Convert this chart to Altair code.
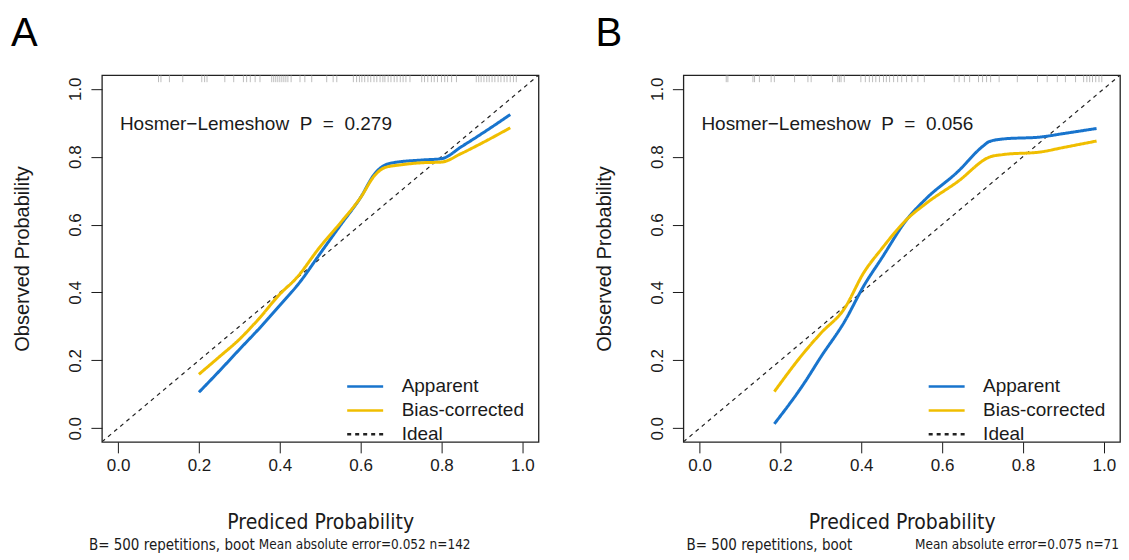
import altair as alt
import pandas as pd

series = ["Apparent", "Bias-corrected", "Ideal"]
ticks = [0.0, 0.2, 0.4, 0.6, 0.8, 1.0]
ideal_x = [-0.04, 1.04]
ideal_y = [-0.04, 1.04]

# Panel A
a_app_x = [0.20, 0.25, 0.30, 0.35, 0.40, 0.45, 0.50, 0.55, 0.60, 0.635, 0.655, 0.68, 0.75, 0.80, 0.85, 0.90, 0.97]
a_app_y = [0.106, 0.168, 0.232, 0.295, 0.362, 0.431, 0.515, 0.598, 0.680, 0.750, 0.772, 0.782, 0.790, 0.794, 0.830, 0.868, 0.924]
a_bc_x = [0.20, 0.25, 0.30, 0.35, 0.40, 0.44, 0.50, 0.55, 0.60, 0.635, 0.66, 0.70, 0.75, 0.80, 0.85, 0.90, 0.97]
a_bc_y = [0.159, 0.210, 0.262, 0.325, 0.395, 0.441, 0.535, 0.605, 0.680, 0.745, 0.768, 0.776, 0.782, 0.784, 0.810, 0.840, 0.885]
a_rug = [0.100, 0.106, 0.127, 0.160, 0.207, 0.214, 0.220, 0.264, 0.286, 0.310, 0.318, 0.327, 0.339, 0.351,
         0.380, 0.385, 0.390, 0.395, 0.400, 0.405, 0.410, 0.415, 0.420, 0.428, 0.450, 0.462, 0.479, 0.516,
         0.532, 0.541, 0.582, 0.590, 0.597, 0.603, 0.610, 0.618, 0.625, 0.633, 0.640, 0.648, 0.655, 0.660,
         0.668, 0.675, 0.683, 0.690, 0.698, 0.705, 0.712, 0.722, 0.751, 0.758, 0.766, 0.775, 0.782, 0.790,
         0.800, 0.808, 0.815, 0.825, 0.837, 0.886, 0.892, 0.898, 0.905, 0.912, 0.918, 0.925, 0.932, 0.940,
         0.947, 0.955, 0.962, 0.970, 0.978, 0.985]

# Panel B
b_app_x = [0.185, 0.26, 0.30, 0.358, 0.407, 0.45, 0.514, 0.56, 0.638, 0.70, 0.716, 0.75, 0.844, 0.90, 0.982]
b_app_y = [0.013, 0.135, 0.210, 0.313, 0.421, 0.500, 0.617, 0.676, 0.755, 0.830, 0.844, 0.852, 0.858, 0.868, 0.883]
b_bc_x = [0.185, 0.259, 0.30, 0.358, 0.407, 0.45, 0.514, 0.56, 0.638, 0.72, 0.75, 0.844, 0.90, 0.982]
b_bc_y = [0.108, 0.224, 0.280, 0.352, 0.460, 0.528, 0.617, 0.662, 0.726, 0.800, 0.806, 0.814, 0.827, 0.846]
b_rug = [0.066, 0.070, 0.132, 0.136, 0.148, 0.177, 0.185, 0.235, 0.268, 0.276, 0.329, 0.342, 0.346, 0.350,
         0.358, 0.399, 0.410, 0.420, 0.428, 0.436, 0.445, 0.455, 0.462, 0.470, 0.480, 0.490, 0.500, 0.512,
         0.525, 0.540, 0.556, 0.630, 0.642, 0.655, 0.668, 0.690, 0.700, 0.710, 0.720, 0.741, 0.786, 0.836,
         0.860, 0.885, 0.905, 0.930, 0.950, 0.958, 0.965, 0.972, 0.980, 0.988, 0.995]

BLUE = "#1874CD"
GOLD = "#F0BE00"
FONT = "Liberation Sans"
NARROW = "DejaVu Sans Condensed, Liberation Sans"
TXT = "#1a1a1a"
W, H = 437, 367


def panel(letter, letter_x, app_x, app_y, bc_x, bc_y, rug, hl, sub_l, sub_l_x, sub_r, sub_r_x):
    rows = []
    for i, (x, y) in enumerate(zip(app_x, app_y)):
        rows.append({"x": x, "y": y, "series": "Apparent", "i": i})
    for i, (x, y) in enumerate(zip(bc_x, bc_y)):
        rows.append({"x": x, "y": y, "series": "Bias-corrected", "i": i})
    df = pd.DataFrame(rows)
    dfi = pd.DataFrame({"x": ideal_x, "y": ideal_y, "series": ["Ideal", "Ideal"], "i": [0, 1]})

    xs = alt.Scale(domain=[-0.04, 1.04], nice=False, zero=False)
    ys = alt.Scale(domain=[-0.04, 1.04], nice=False, zero=False)
    x_axis = alt.Axis(values=ticks, format=".1f", domain=False, grid=False, tickSize=11,
                      tickColor=TXT, tickWidth=1, labelFontSize=17, labelFont=FONT, labelColor=TXT,
                      labelPadding=5, title="Prediced Probability", titleFont=NARROW,
                      titleFontSize=21, titleFontWeight="normal", titleColor=TXT,
                      titleX=W / 2, titleY=81, titleBaseline="middle", titleAnchor="middle")
    y_axis = alt.Axis(values=ticks, format=".1f", domain=False, grid=False, tickSize=11,
                      tickColor=TXT, tickWidth=1, labelFontSize=17, labelFont=FONT, labelColor=TXT,
                      labelAngle=270, labelAlign="center", labelBaseline="bottom", labelPadding=6,
                      title="Observed Probability", titleFont=FONT, titleFontSize=20,
                      titleFontWeight="normal", titleColor=TXT, titleAngle=270,
                      titleX=-79, titleY=H / 2, titleBaseline="middle", titleAlign="center")
    leg = alt.Legend(orient="none", legendX=250, legendY=298, title=None,
                     symbolType="M-1.5,0H1.5", symbolSize=576, symbolStrokeWidth=2.5,
                     labelFontSize=19, labelFont=FONT, labelColor=TXT, labelOffset=23,
                     rowPadding=0, labelLimit=300)
    cscale = alt.Scale(domain=series, range=[BLUE, GOLD, "#222222"])
    dscale = alt.Scale(domain=series, range=[[1, 0], [1, 0], [4, 4]])
    ideal = alt.Chart(dfi).mark_line(clip=True, strokeWidth=1.2).encode(
        x=alt.X("x:Q", scale=xs, axis=x_axis),
        y=alt.Y("y:Q", scale=ys, axis=y_axis),
        color=alt.Color("series:N", scale=cscale, legend=leg),
        strokeDash=alt.StrokeDash("series:N", scale=dscale, legend=leg),
        order="i:Q",
    )
    lines = alt.Chart(df).mark_line(clip=True, interpolate="monotone", strokeWidth=3).encode(
        x=alt.X("x:Q", scale=xs, axis=x_axis),
        y=alt.Y("y:Q", scale=ys, axis=y_axis),
        color=alt.Color("series:N", scale=cscale, legend=leg),
        strokeDash=alt.StrokeDash("series:N", scale=dscale, legend=leg),
        order="i:Q",
    )
    rugc = alt.Chart(pd.DataFrame({"r": rug})).mark_rule(color="#a0a0a0", strokeWidth=0.7).encode(
        x="r:Q", y=alt.value(0), y2=alt.value(7))
    hlc = alt.Chart(pd.DataFrame({"t": [hl]})).mark_text(
        align="left", baseline="middle", fontSize=19, font=FONT, color=TXT).encode(
        text="t:N", x=alt.value(18), y=alt.value(49))
    sub1 = alt.Chart(pd.DataFrame({"t": [sub_l]})).mark_text(
        align="left", baseline="middle", fontSize=15, font=NARROW, color=TXT).encode(
        text="t:N", x=alt.value(sub_l_x), y=alt.value(470))
    sub2 = alt.Chart(pd.DataFrame({"t": [sub_r]})).mark_text(
        align="right", baseline="middle", fontSize=13.5, font=NARROW, color=TXT).encode(
        text="t:N", x=alt.value(sub_r_x), y=alt.value(470))
    let = alt.Chart(pd.DataFrame({"t": [letter]})).mark_text(
        align="left", baseline="top", fontSize=40, font=FONT, color="#000").encode(
        text="t:N", x=alt.value(letter_x), y=alt.value(-61))
    return alt.layer(ideal, lines, rugc, hlc, sub1, sub2, let).properties(width=W, height=H)


NB = "\u00a0"
pa = panel("A", -91, a_app_x, a_app_y, a_bc_x, a_bc_y, a_rug,
           f"Hosmer\u2212Lemeshow{NB}{NB}P{NB}{NB}={NB}{NB}0.279",
           "B= 500 repetitions, boot", -13, "Mean absolute error=0.052 n=142", 369)
pb = panel("B", -88, b_app_x, b_app_y, b_bc_x, b_bc_y, b_rug,
           f"Hosmer\u2212Lemeshow{NB}{NB}P{NB}{NB}={NB}{NB}0.056",
           "B= 500 repetitions, boot", 3, "Mean absolute error=0.075 n=71", 436)

chart = alt.hconcat(pa, pb, spacing=145, bounds="flush").resolve_scale(
    color="independent", strokeDash="independent",
    x="independent", y="independent").resolve_legend(
    color="independent", strokeDash="independent").configure_view(
    stroke="#222222", strokeWidth=1.3).properties(
    padding={"left": 2, "top": 5, "right": 0, "bottom": 0}, background="white")

chart.save("out.html", embed_options={"renderer": "svg", "actions": False})
